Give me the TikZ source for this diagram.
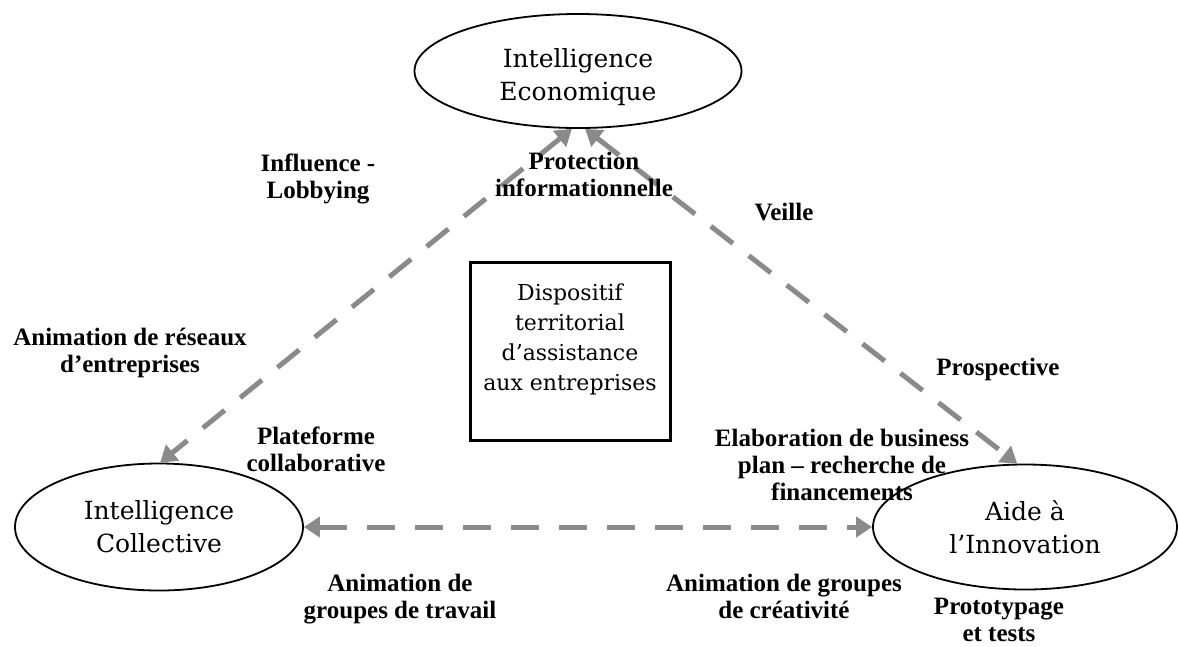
\documentclass[tikz,border=0pt]{standalone}
\usepackage{fontspec}
\setmainfont{DejaVu Serif}
\newfontfamily\labfont{Liberation Serif}
\usetikzlibrary{arrows.meta,shapes.geometric}
\definecolor{arrgray}{RGB}{138,138,138}
\newcommand{\shiftlines}[2]{\raisebox{#1}[\height][\depth]{\begin{tabular}{@{}c@{}}#2\end{tabular}}}
\begin{document}
\begin{tikzpicture}[x=1pt,y=-1pt,
  ell/.style={draw=black,line width=1.8pt,ellipse,inner sep=0pt,align=center,
    font=\fontsize{25}{33}\selectfont},
  boxnode/.style={draw=black,line width=3pt,rectangle,inner sep=0pt,align=center,
    minimum width=200pt,minimum height=178pt,font=\fontsize{22}{30}\selectfont},
  lab/.style={anchor=north,inner sep=0pt,align=center,
    font=\labfont\bfseries\fontsize{25}{27}\selectfont},
  arr/.style={draw=arrgray,line width=5pt,dash pattern=on 28pt off 20pt,
    {Triangle[length=16pt,width=20pt]}-{Triangle[length=16pt,width=20pt]}}
]
\useasboundingbox (0,0) rectangle (1178,646);

\node[ell,minimum width=327pt,minimum height=114pt] (ie) at (578,71) {\shiftlines{-6pt}{Intelligence\\Economique}};
\node[ell,minimum width=288pt,minimum height=127pt] (ic) at (159,527) {Intelligence\\Collective};
\node[ell,minimum width=304pt,minimum height=125pt] (ai) at (1025,527) {Aide à\\l’Innovation};
\node[boxnode] (box) at (570,351) {\shiftlines{12pt}{Dispositif\\territorial\\d’assistance\\aux entreprises}};

\draw[arr] (ie.264) -- (ic.89);
\draw[arr] (ie.277) -- (ai.97);
\draw[arr] (ic.east) -- (ai.west);

\node[lab] (lInf) at (318,154) {Influence -\\Lobbying};
\node[lab] (lProt) at (584,152) {Protection\\informationnelle};
\node[lab] (lVeille) at (784,203) {Veille};
\node[lab] (lAnim) at (130,328) {Animation de réseaux\\d’entreprises};
\node[lab] (lProsp) at (998,358) {Prospective};
\node[lab] (lPlat) at (316,427) {Plateforme\\collaborative};
\node[lab] (lElab) at (842,429) {Elaboration de business\\plan – recherche de\\financements};
\node[lab] (lGrp) at (400,574) {Animation de\\groupes de travail};
\node[lab] (lCrea) at (784,574) {Animation de groupes\\de créativité};
\node[lab] (lProto) at (999,598) {Prototypage\\et tests};
\end{tikzpicture}
\end{document}
